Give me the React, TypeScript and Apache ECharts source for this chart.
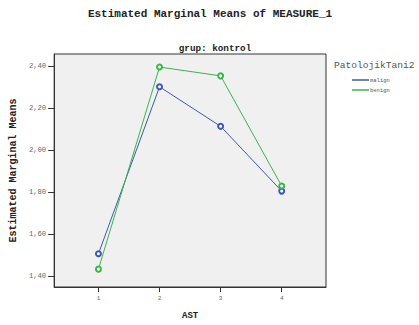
import React, { useEffect, useRef } from "react";
import * as echarts from "echarts";

const categories = [1, 2, 3, 4];
const malign = [1.506, 2.3, 2.112, 1.804];
const benign = [1.433, 2.394, 2.352, 1.828];
const yTicks = [1.4, 1.6, 1.8, 2.0, 2.2, 2.4];
const seriesNames = ["malign", "benign"];

const FONT = "Liberation Mono";

export default function App() {
  const ref = useRef<HTMLDivElement>(null);
  useEffect(() => {
    if (!ref.current) return;
    const chart = echarts.init(ref.current, null, { renderer: "svg" });
    chart.setOption({
      animation: false,
      backgroundColor: "#ffffff",
      textStyle: { fontFamily: FONT },
      title: [
        {
          text: "Estimated Marginal Means of MEASURE_1",
          left: 210,
          textAlign: "center",
          top: 8,
          padding: 0,
          textStyle: { fontFamily: FONT, fontSize: 11, fontWeight: "bold", color: "#222" },
        },
        {
          text: "grup: kontrol",
          left: 215,
          textAlign: "center",
          top: 44,
          padding: 0,
          textStyle: { fontFamily: FONT, fontSize: 9.3, fontWeight: "bold", color: "#222" },
        },
        {
          text: "PatolojikTani2",
          left: 334,
          top: 60,
          padding: 0,
          textStyle: { fontFamily: FONT, fontSize: 9.6, fontWeight: "normal", color: "#555" },
        },
      ],
      legend: {
        data: seriesNames,
        orient: "vertical",
        left: 352,
        top: 77,
        padding: 0,
        icon: "rect",
        itemWidth: 17,
        itemHeight: 1.5,
        itemGap: 4,
        textStyle: { fontFamily: FONT, fontSize: 5.5, color: "#555", padding: [0, 0, 0, -4] },
      },
      grid: {
        left: 48,
        right: 93,
        top: 54,
        bottom: 38,
        show: true,
        backgroundColor: "#f0f0f0",
        borderColor: "#333",
        borderWidth: 1,
      },
      xAxis: {
        type: "value",
        min: 0.275,
        max: 4.725,
        name: "AST",
        nameLocation: "middle",
        nameGap: 24,
        nameTextStyle: { fontFamily: FONT, fontSize: 9, fontWeight: "bold", color: "#222" },
        axisLine: { show: true, lineStyle: { color: "#333", width: 1 } },
        axisTick: { show: true, length: 5, customValues: categories, lineStyle: { color: "#333" } },
        axisLabel: {
          customValues: categories,
          fontFamily: FONT,
          fontSize: 6,
          color: "#666",
          margin: 8,
          formatter: (v: number) => String(v),
        },
        splitLine: { show: false },
      },
      yAxis: {
        type: "value",
        min: 1.348,
        max: 2.456,
        name: "Estimated Marginal Means",
        nameLocation: "middle",
        nameGap: 26,
        nameTextStyle: { fontFamily: FONT, fontSize: 10, fontWeight: "bold", color: "#222" },
        axisLine: { show: true, lineStyle: { color: "#333", width: 1 } },
        axisTick: { show: true, length: 6, customValues: yTicks, lineStyle: { color: "#333" } },
        axisLabel: {
          customValues: yTicks,
          fontFamily: FONT,
          fontSize: 7.2,
          color: "#666",
          margin: 8,
          formatter: (v: number) => v.toFixed(2).replace(".", ","),
        },
        splitLine: { show: false },
      },
      series: [
        {
          name: seriesNames[0],
          type: "line",
          data: categories.map((c, i) => [c, malign[i]]),
          symbol: "emptyCircle",
          symbolSize: 5,
          lineStyle: { color: "#3f58b4", width: 1 },
          itemStyle: { color: "#3f58b4", borderWidth: 0.8 },
        },
        {
          name: seriesNames[1],
          type: "line",
          data: categories.map((c, i) => [c, benign[i]]),
          symbol: "emptyCircle",
          symbolSize: 5,
          lineStyle: { color: "#3cb44b", width: 1 },
          itemStyle: { color: "#3cb44b", borderWidth: 0.8 },
        },
      ],
    });
    return () => chart.dispose();
  }, []);
  return (
    <div
      ref={ref}
      style={{ position: "fixed", left: 0, top: 0, width: 419, height: 325 }}
    />
  );
}
